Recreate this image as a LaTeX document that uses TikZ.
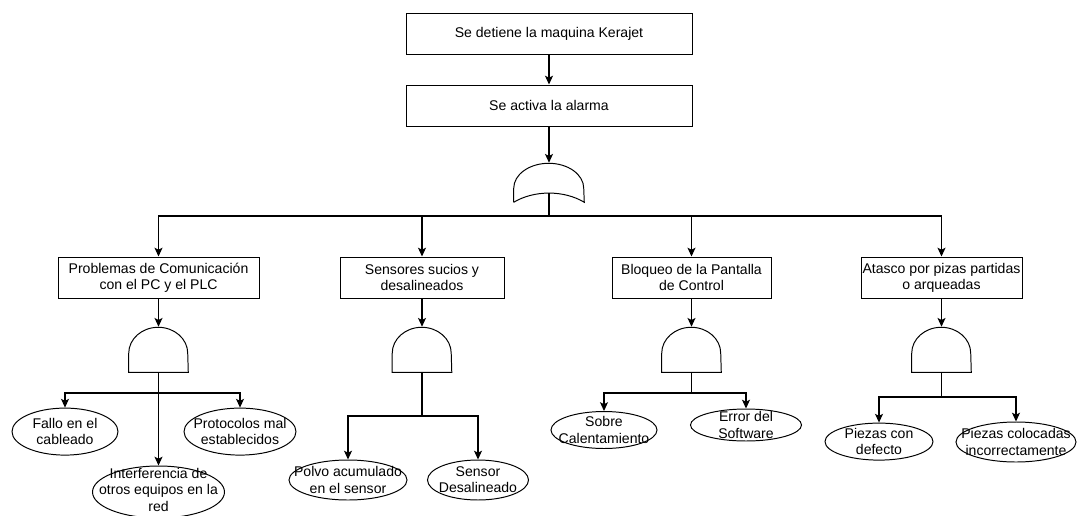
\documentclass[tikz,border=0pt]{standalone}
\usepackage{fontspec}
\setmainfont{Liberation Sans}
\usetikzlibrary{shapes.geometric,arrows.meta}

\tikzset{
  box/.style={draw,line width=0.7pt,minimum height=1.025cm,inner sep=1pt,align=center},
  evt/.style={draw,ellipse,line width=0.7pt,inner sep=0pt},
  txt/.style={align=center},
  gate/.style={inner sep=0pt,minimum width=1.475cm,minimum height=1.125cm},
  arr/.style={-{Stealth[length=2.2mm,width=2mm,inset=0.5mm]},line width=0.8pt}
}

\begin{document}
\begin{tikzpicture}[font=\fontsize{10}{11.5}\selectfont]
  \useasboundingbox (0,0) rectangle (26.925,-12.9);
  % top events
  \node[box,minimum width=7.15cm] (top) at (13.725,-0.85) {Se detiene la maquina Kerajet};
  \node[box,minimum width=7.15cm] (alarm) at (13.725,-2.6375) {Se activa la alarma};
  \draw[arr] (top) -- (alarm);
  % OR gate
  \node[inner sep=0pt,minimum width=1.75cm,minimum height=0.975cm] (g0) at (13.725,-4.5625) {};
  \draw[line width=0.7pt] (g0.south west) -- ++(0,0.35) arc[start angle=180,end angle=0,x radius=0.875,y radius=0.625] -- (g0.south east) .. controls (14.1,-4.75) and (13.35,-4.75) .. (g0.south west);
  \draw[arr] (alarm) -- (g0);
  \coordinate (j0) at (13.725,-5.4);
  \draw[line width=1.6pt] ([yshift=0.225cm]g0.south) -- (j0);
  % causes
  \node[box,minimum width=5.025cm] (c1) at (3.9625,-6.9375) {Problemas de Comunicación\\con el PC y el PLC};
  \node[box,minimum width=4.1cm] (c2) at (10.55,-6.9375) {Sensores sucios y\\desalineados};
  \node[box,minimum width=3.975cm] (c3) at (17.2875,-6.9375) {Bloqueo de la Pantalla\\de Control};
  \node[box,minimum width=4.025cm] (c4) at (23.5375,-6.9375) {Atasco por pizas partidas\\o arqueadas};
  \draw[arr] (j0) -| (c1);
  \draw[arr] (j0) -| (c2);
  \draw[arr] (j0) -| (c3);
  \draw[arr] (j0) -| (c4);
  % AND gates
  \node[gate] (g1) at (3.9625,-8.7375) {};
  \node[gate] (g2) at (10.55,-8.7375) {};
  \node[gate] (g3) at (17.2875,-8.7375) {};
  \node[gate] (g4) at (23.5375,-8.7375) {};
  \draw[line width=0.7pt] (g1.south west) -- ++(0,0.475) arc[start angle=180,end angle=0,x radius=0.7375,y radius=0.65] -- (g1.south east) -- cycle;
  \draw[line width=0.7pt] (g2.south west) -- ++(0,0.475) arc[start angle=180,end angle=0,x radius=0.7375,y radius=0.65] -- (g2.south east) -- cycle;
  \draw[line width=0.7pt] (g3.south west) -- ++(0,0.475) arc[start angle=180,end angle=0,x radius=0.7375,y radius=0.65] -- (g3.south east) -- cycle;
  \draw[line width=0.7pt] (g4.south west) -- ++(0,0.475) arc[start angle=180,end angle=0,x radius=0.7375,y radius=0.65] -- (g4.south east) -- cycle;
  \draw[arr] (c1) -- (g1);
  \draw[arr] (c2) -- (g2);
  \draw[arr] (c3) -- (g3);
  \draw[arr] (c4) -- (g4);
  % basic events
  \coordinate (j1) at (3.9625,-9.825);
  \coordinate (j2) at (10.55,-10.4);
  \coordinate (j3) at (17.2875,-9.825);
  \coordinate (j4) at (23.5375,-9.925);
  \draw[line width=0.8pt] (g1) -- (j1);
  \draw[line width=0.8pt] (g2) -- (j2);
  \draw[line width=0.8pt] (g3) -- (j3);
  \draw[line width=0.8pt] (g4) -- (j4);
  \node[evt,minimum width=2.65cm,minimum height=1.175cm,label={[txt]center:Fallo en el\\cableado}] (e11) at (1.625,-10.79) {};
  \node[evt,minimum width=2.8cm,minimum height=1.175cm,label={[txt]center:Protocolos mal\\establecidos}] (e12) at (6.0,-10.79) {};
  \node[evt,minimum width=3.3cm,minimum height=1.3cm,label={[txt,yshift=1.5pt]center:Interferencia de\\otros equipos en la\\red}] (e13) at (3.9625,-12.3) {};
  \node[evt,minimum width=2.95cm,minimum height=1cm,label={[txt]center:Polvo acumulado\\en el sensor}] (e21) at (8.7,-12.0) {};
  \node[evt,minimum width=2.525cm,minimum height=1cm,label={[txt]center:Sensor\\Desalineado}] (e22) at (11.95,-12.0) {};
  \node[evt,minimum width=2.65cm,minimum height=0.925cm,label={[txt]center:Sobre\\Calentamiento}] (e31) at (15.1,-10.75) {};
  \node[evt,minimum width=2.775cm,minimum height=0.8cm,label={[txt]center:Error del\\Software}] (e32) at (18.65,-10.625) {};
  \node[evt,minimum width=2.7cm,minimum height=0.925cm,label={[txt]center:Piezas con\\defecto}] (e41) at (21.975,-11.04) {};
  \node[evt,minimum width=3.0cm,minimum height=1cm,label={[txt]center:Piezas colocadas\\incorrectamente}] (e42) at (25.4,-11.05) {};
  \draw[arr] (j1) -| (e11);
  \draw[arr] (j1) -| (e12);
  \draw[arr] (j1) -- (e13);
  \draw[arr] (j2) -| (e21);
  \draw[arr] (j2) -| (e22);
  \draw[arr] (j3) -| (e31);
  \draw[arr] (j3) -| (e32);
  \draw[arr] (j4) -| (e41);
  \draw[arr] (j4) -| (e42);
\end{tikzpicture}
\end{document}
